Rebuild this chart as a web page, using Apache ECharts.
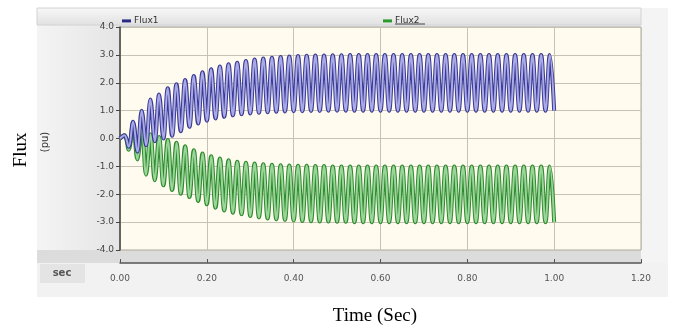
<!DOCTYPE html>
<html style="height: 100%">
<head>
    <script src="https://cdn.jsdelivr.net/npm/echarts@6/dist/echarts.min.js"></script>
</head>
<body style="height: 100%; margin: 0; background: #fff">
    <div id="main" style="width: 675px; height: 332px"></div>
    <script type="text/javascript">
    // sampling: troughs at t = 0, 0.02, ... 1.00 ; peaks half a step later
    var halfPeriod = 0.01;

    var flux1Peaks = [0.12, 0.6, 1.0, 1.4, 1.58, 1.8, 1.95, 2.1, 2.24, 2.38,
        2.48, 2.58, 2.66, 2.72, 2.78, 2.83, 2.87, 2.9, 2.92, 2.94,
        2.96, 2.97, 2.98, 2.98, 2.99, 2.99, 3.0, 3.0, 3.0, 3.0,
        3.0, 3.0, 3.0, 3.0, 3.0, 3.0, 3.0, 3.0, 3.0, 3.0,
        3.0, 3.0, 3.0, 3.0, 3.0, 3.0, 3.0, 3.0, 3.0, 3.0];
    var flux1Troughs = [0, -0.3, -0.47, -0.24, -0.1, 0.0, 0.1, 0.26, 0.42, 0.54,
        0.64, 0.72, 0.78, 0.83, 0.87, 0.9, 0.92, 0.94, 0.96, 0.97,
        0.98, 0.98, 0.99, 0.99, 1.0, 1.0, 1.0, 1.0, 1.0, 1.0,
        1.0, 1.0, 1.0, 1.0, 1.0, 1.0, 1.0, 1.0, 1.0, 1.0,
        1.0, 1.0, 1.0, 1.0, 1.0, 1.0, 1.0, 1.0, 1.0, 1.0, 1.0];
    var flux2Peaks = [0.12, 0.55, 0.35, 0.15, 0.05, -0.05, -0.15, -0.28, -0.42, -0.54,
        -0.64, -0.72, -0.78, -0.83, -0.87, -0.9, -0.92, -0.94, -0.96, -0.97,
        -0.98, -0.98, -0.99, -0.99, -1.0, -1.0, -1.0, -1.0, -1.0, -1.0,
        -1.0, -1.0, -1.0, -1.0, -1.0, -1.0, -1.0, -1.0, -1.0, -1.0,
        -1.0, -1.0, -1.0, -1.0, -1.0, -1.0, -1.0, -1.0, -1.0, -1.0];
    var flux2Troughs = [0, -0.4, -0.75, -1.3, -1.5, -1.68, -1.85, -1.98, -2.1, -2.24,
        -2.36, -2.48, -2.58, -2.66, -2.72, -2.78, -2.83, -2.87, -2.9, -2.92,
        -2.94, -2.96, -2.97, -2.98, -2.98, -2.99, -2.99, -3.0, -3.0, -3.0,
        -3.0, -3.0, -3.0, -3.0, -3.0, -3.0, -3.0, -3.0, -3.0, -3.0,
        -3.0, -3.0, -3.0, -3.0, -3.0, -3.0, -3.0, -3.0, -3.0, -3.0, -3.0];

    function buildWave(troughs, peaks) {
        var data = [];
        for (var i = 0; i < troughs.length; i++) {
            data.push([+(2 * i * halfPeriod).toFixed(2), troughs[i]]);
            if (i < peaks.length) {
                data.push([+((2 * i + 1) * halfPeriod).toFixed(2), peaks[i]]);
            }
        }
        return data;
    }

    var wave1 = buildWave(flux1Troughs, flux1Peaks);
    var wave2 = buildWave(flux2Troughs, flux2Peaks);

    var chartDom = document.getElementById('main');
    var myChart = echarts.init(chartDom);

    var sans = 'DejaVu Sans';
    var serif = 'Liberation Serif';

    function waveSeries(name, data, color, width) {
        return {
            name: name,
            type: 'line',
            data: data,
            smooth: 0.4,
            showSymbol: false,
            animation: false,
            silent: true,
            lineStyle: { color: color, width: width }
        };
    }

    var option = {
        backgroundColor: '#ffffff',
        animation: false,
        grid: {
            left: 120, right: 34, top: 27, bottom: 82,
            show: true,
            backgroundColor: '#fffcef',
            borderColor: '#a9a9a9',
            borderWidth: 1
        },
        legend: [
            {
                data: [{ name: 'Flux1', itemStyle: { color: '#2b2b86' } }],
                left: 122, top: 12, padding: 0,
                icon: 'rect', itemWidth: 9, itemHeight: 3,
                selectedMode: false,
                textStyle: { fontFamily: sans, fontSize: 9, color: '#333', padding: [0, 0, 0, -2] }
            },
            {
                data: [{ name: 'Flux2', itemStyle: { color: '#2a9a2a' } }],
                left: 383, top: 12, padding: 0,
                icon: 'rect', itemWidth: 9, itemHeight: 3,
                selectedMode: false,
                textStyle: { fontFamily: sans, fontSize: 9, color: '#333', padding: [0, 0, 0, -2] }
            }
        ],
        xAxis: {
            type: 'value',
            min: 0, max: 1.2, interval: 0.2,
            offset: 13,
            axisLine: { show: true, onZero: false, lineStyle: { color: '#555', width: 1.5 } },
            axisTick: { show: true, inside: true, length: 4, lineStyle: { color: '#555' } },
            axisLabel: {
                color: '#555', fontFamily: sans, fontSize: 9, margin: 7,
                formatter: function (v) { return v.toFixed(2); }
            },
            splitLine: { show: true, lineStyle: { color: '#c6c2b4', width: 1 } }
        },
        yAxis: {
            type: 'value',
            min: -4, max: 4, interval: 1,
            axisLine: { show: true, onZero: false, lineStyle: { color: '#444', width: 1.5 } },
            axisTick: { show: true, length: 4, lineStyle: { color: '#444' } },
            axisLabel: {
                color: '#444', fontFamily: sans, fontSize: 9, margin: 6,
                formatter: function (v) { return v.toFixed(1); }
            },
            splitLine: { show: true, lineStyle: { color: '#c6c2b4', width: 1 } }
        },
        graphic: [
            // outer panel and bands
            { type: 'rect', z: -10, shape: { x: 37, y: 8, width: 631, height: 289 },
              style: { fill: new echarts.graphic.LinearGradient(0, 0, 1, 0, [
                  { offset: 0, color: '#f4f4f4' }, { offset: 0.12, color: '#e6e6e6' }, { offset: 1, color: '#eeeeee' }]) } },
            { type: 'rect', z: -9, shape: { x: 641, y: 8, width: 27, height: 289 },
              style: { fill: '#f4f4f4' } },
            { type: 'rect', z: -9, shape: { x: 37, y: 8, width: 604, height: 17 },
              style: { fill: new echarts.graphic.LinearGradient(0, 0, 0, 1, [
                  { offset: 0, color: '#f8f8f8' }, { offset: 1, color: '#e1e1e1' }]), stroke: '#d2d2d2', lineWidth: 1 } },
            { type: 'rect', z: -9, shape: { x: 37, y: 250, width: 604, height: 13 },
              style: { fill: '#dcdcdc' } },
            { type: 'rect', z: -9, shape: { x: 37, y: 263, width: 631, height: 34 },
              style: { fill: '#f2f2f2' } },
            { type: 'rect', z: -8, shape: { x: 40, y: 264, width: 45, height: 19 },
              style: { fill: '#e4e4e4' } },
            { type: 'line', z: 10, shape: { x1: 395, y1: 24, x2: 425, y2: 24 },
              style: { stroke: '#444', lineWidth: 1 } },
            // texts
            { type: 'text', z: 10, x: 62, y: 273,
              style: { text: 'sec', fill: '#555', font: 'bold 10px ' + sans, textAlign: 'center', textVerticalAlign: 'middle' } },
            { type: 'text', z: 10, x: 21, y: 150, rotation: Math.PI / 2,
              style: { text: 'Flux', fill: '#000', font: '19px "' + serif + '"', textAlign: 'center', textVerticalAlign: 'middle' } },
            { type: 'text', z: 10, x: 45, y: 142, rotation: Math.PI / 2,
              style: { text: '(pu)', fill: '#333', font: '10px ' + sans, textAlign: 'center', textVerticalAlign: 'middle' } },
            { type: 'text', z: 10, x: 375, y: 316,
              style: { text: 'Time (Sec)', fill: '#000', font: '19px "' + serif + '"', textAlign: 'center', textVerticalAlign: 'middle' } }
        ],
        series: [
            waveSeries('Flux2 edge', wave2, '#2f8a2f', 4),
            waveSeries('Flux2', wave2, '#9ad69a', 2),
            waveSeries('Flux1 edge', wave1, '#3a3a94', 4),
            waveSeries('Flux1', wave1, '#aaaae8', 2)
        ]
    };

    myChart.setOption(option);
    </script>
</body>
</html>
